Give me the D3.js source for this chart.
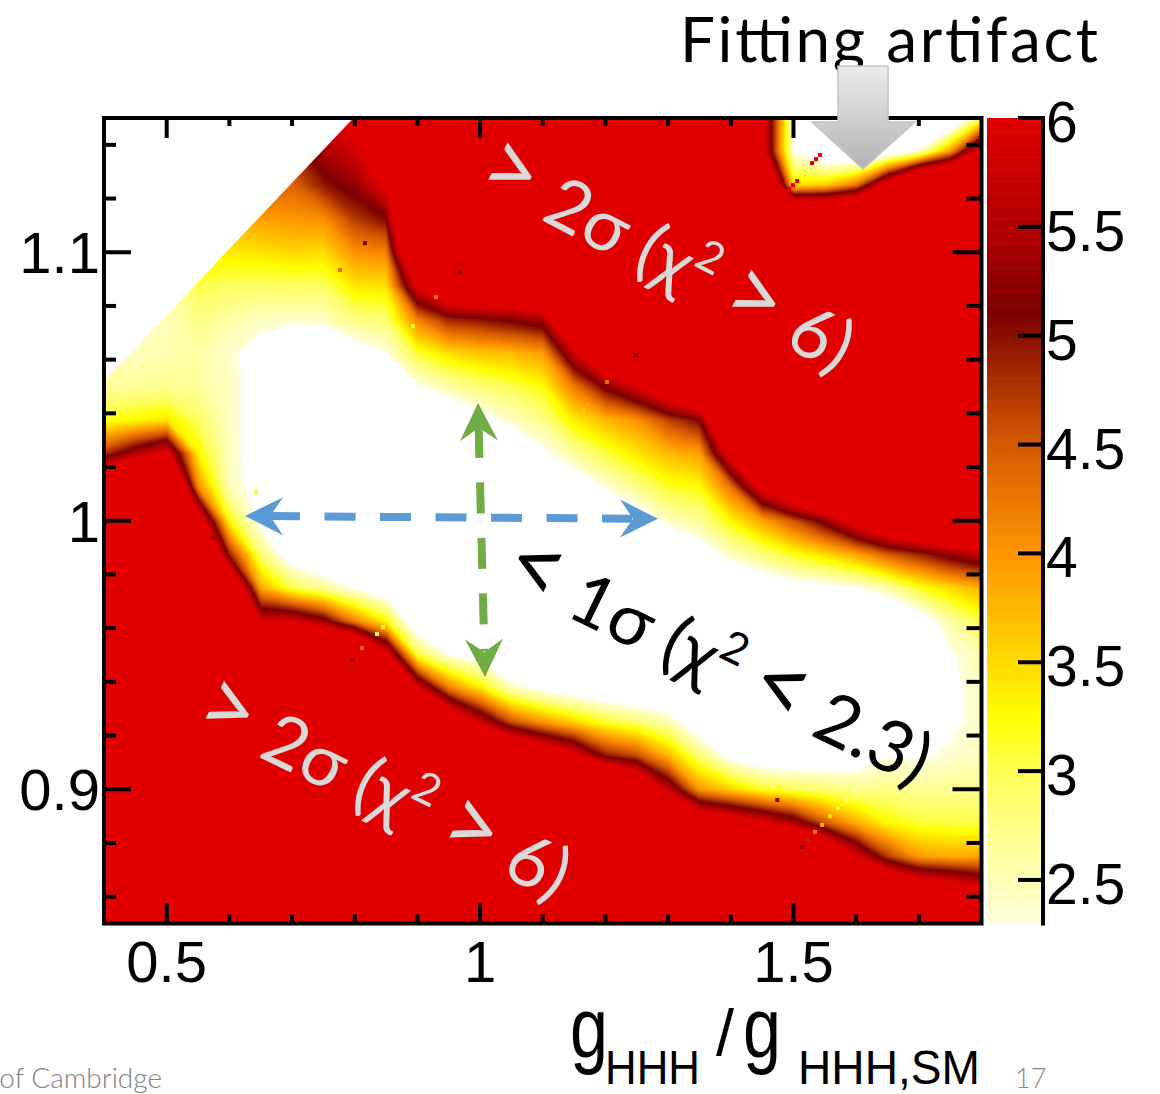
<!DOCTYPE html>
<html><head><meta charset="utf-8">
<script src="https://cdn.jsdelivr.net/npm/d3@7"></script>
<style>body{margin:0;background:#fff;} svg{display:block;}</style>
</head><body>
<svg id="chart" width="1160" height="1094"></svg>
<script>
// ---------------- data ----------------
// grid of scan nodes
const xValues = [0.40,0.45,0.50,0.55,0.60,0.65,0.70,0.75,0.80,0.85,0.90,0.95,1.00,1.05,1.10,1.15,1.20,1.25,1.30,1.35,1.40,1.45,1.50,1.55,1.60,1.65,1.70,1.75,1.80];
const yValues = [1.15,1.1375,1.125,1.1125,1.10,1.0875,1.075,1.0625,1.05,1.0375,1.025,1.0125,1.00,0.9875,0.975,0.9625,0.95,0.9375,0.925,0.9125,0.90,0.8875,0.875,0.8625,0.85];
// chi2 at each node: one array per x value, entries follow yValues (top to bottom)
const chi2Columns = [
 [2.45,2.45,2.45,2.45,2.45,2.45,2.45,2.45,2.65,3.16,4.8,7.9,9,9,9,9,9,9,9,9,9,9,9,9,9],
 [2.45,2.45,2.45,2.45,2.45,2.45,2.45,2.47,2.65,3.3,5.5,9,9,9,9,9,9,9,9,9,9,9,9,9,9],
 [2.5,2.5,2.5,2.5,2.5,2.6,2.5,2.55,2.7,3.43,6.2,9,9,9,9,9,9,9,9,9,9,9,9,9,9],
 [3.6,3.6,3.6,3.6,3.4,3.05,2.75,2.6,2.65,2.95,3.35,4.1,6.7,9,9,9,9,9,9,9,9,9,9,9,9],
 [4.0,4.0,4.0,3.8,3.4,2.95,2.6,2.4,2.45,2.45,2.45,2.5,3.25,4.9,7.8,9,9,9,9,9,9,9,9,9,9],
 [4.8,4.6,4.5,3.95,3.45,2.95,2.45,2.1,2.05,2.05,2.05,2.1,2.15,2.85,3.85,5.9,9,9,9,9,9,9,9,9,9],
 [5.2,4.8,4.4,4.0,3.55,2.95,2.42,1.5,0.8,0.5,0.5,0.5,0.9,1.9,3.02,6.0,9,9,9,9,9,9,9,9,9],
 [6.0,5.45,4.95,4.05,3.5,2.95,2.45,1.6,0.6,0.5,0.5,0.5,0.5,1.55,2.7,5.35,9,9,9,9,9,9,9,9,9],
 [6.3,5.83,5.3,4.73,4.05,3.42,2.8,2.0,1.0,0.5,0.5,0.5,0.5,1.25,2.25,4.19,9,9,9,9,9,9,9,9,9],
 [8.3,7.2,6.15,5.08,4.15,3.46,2.87,2.3,1.3,0.5,0.5,0.5,0.5,0.86,1.85,3.31,6.3,9,9,9,9,9,9,9,9],
 [9,9,9,9,8.3,6.1,4.18,3.12,2.25,1.25,0.5,0.5,0.5,0.5,0.74,1.75,3.11,6.1,9,9,9,9,9,9,9],
 [9,9,9,9,9,7.3,4.87,3.5,2.59,1.64,0.5,0.5,0.5,0.5,0.5,1.3,2.3,4.25,7.3,9,9,9,9,9,9],
 [9,9,9,9,9,7.5,5.02,3.65,2.85,2.08,1.07,0.5,0.5,0.5,0.5,1.0,2.04,3.44,5.8,9,9,9,9,9,9],
 [9,9,9,9,9,7.5,5.2,3.75,3.0,2.43,1.52,0.5,0.5,0.5,0.5,0.5,1.4,2.53,4.58,7.9,9,9,9,9,9],
 [9,9,9,9,9,7.75,5.45,3.94,3.26,2.75,2.18,1.2,0.5,0.5,0.5,0.5,1.17,2.17,4.0,7.0,9,9,9,9,9],
 [9,9,9,9,9,9,8.1,5.78,4.23,3.39,2.65,1.78,0.8,0.5,0.5,0.5,0.9,1.9,3.57,6.2,9,9,9,9,9],
 [9,9,9,9,9,9,9,7.7,5.2,3.75,3.06,2.35,1.37,0.5,0.5,0.5,0.72,1.72,3.16,4.99,9,9,9,9,9],
 [9,9,9,9,9,9,9,8.5,5.94,4.03,3.41,2.74,1.91,0.9,0.5,0.5,0.6,1.6,2.89,4.59,7.65,9,9,9,9],
 [9,9,9,9,9,9,9,9,6.9,4.67,3.73,3.15,2.45,1.5,0.5,0.5,0.54,1.54,2.57,3.76,5.68,9,9,9,9],
 [9,9,9,9,9,9,9,9,8.1,5.1,3.92,3.25,2.67,1.95,0.95,0.5,0.5,0.85,1.86,2.85,4.0,7.0,9,9,9],
 [9,9,9,9,9,9,9,9,9,9,6.3,4.29,3.31,2.48,1.52,0.5,0.5,0.5,1.11,2.12,3.57,6.6,9,9,9],
 [6.3,6.3,9,9,9,9,9,9,9,9,9,6.23,3.9,2.83,1.79,0.8,0.5,0.5,0.78,1.79,3.17,6.1,9,9,9],
 [2.3,2.3,3.5,9,9,9,9,9,9,9,9,7.46,4.55,3.21,2.0,1.0,0.5,0.5,0.81,1.82,2.98,5.5,9,9,9],
 [1.0,1.6,3.6,9,9,9,9,9,9,9,9,8.56,5.28,3.51,2.12,1.1,0.5,0.5,0.84,1.85,2.84,4.52,7.86,9,9],
 [1.0,1.3,4.3,9,9,9,9,9,9,9,9,9,6.4,3.9,2.27,1.26,0.5,0.5,0.93,1.94,2.76,3.82,6.0,9,9],
 [1.1,1.8,6.5,9,9,9,9,9,9,9,9,9,7.26,4.48,2.58,1.44,0.5,0.5,1.26,2.27,2.76,3.3,4.71,7.8,9],
 [1.2,2.4,9,9,9,9,9,9,9,9,9,9,7.8,4.87,3.15,1.89,0.9,0.5,1.23,2.24,2.69,3.11,3.96,7.0,9],
 [1.3,4.0,9,9,9,9,9,9,9,9,9,9,8.3,5.32,3.53,2.59,2.25,2.2,2.2,2.38,2.72,3.06,3.83,6.7,9],
 [3.0,6.5,6.6,7.0,9,9,9,9,9,9,9,9,8.2,5.66,3.8,3.05,2.57,2.45,2.45,2.48,2.68,3.06,3.89,6.1,9]
];
// region outside the scan (empty bins)
const noDataRegion = [[0.4,1.15],[0.4,1.052],[0.798,1.15]];
// isolated interpolation glitches [x, y, chi2]
const glitchPoints = [
 [0.8164,1.1034,5.2],[0.7765,1.0934,4.3],[0.968,1.0926,5.0],[0.9297,1.0833,4.2],[0.893,1.0725,3.2],
 [1.2488,1.0617,5.1],[1.2025,1.0517,4.3],[1.1642,1.0412,3.6],[1.1722,1.0431,3.9],
 [0.6425,1.0107,3.2],[0.5739,0.9936,5.2],[0.7957,0.9481,5.3],[0.8451,0.9604,3.2],[0.8356,0.9578,3.0],[0.8116,0.9526,4.3],
 [1.4742,0.896,5.2],[1.4774,0.9005,3.2],
 [1.5136,0.8785,5.2],[1.5232,0.8811,4.8],[1.5344,0.8841,4.2],[1.5456,0.8867,3.8],[1.5584,0.89,3.4],
 [1.5711,0.893,3.1],[1.5838,0.896,2.8],[1.5982,0.8993,2.5],[1.611,0.9027,2.35],
 [1.5296,1.1332,6],[1.536,1.1347,6],[1.5424,1.1362,6],[1.4929,1.1235,6],[1.4993,1.125,6],[1.5057,1.1265,6]
];
// axes
const xDomain = [0.4, 1.8];
const yDomain = [0.85, 1.15];
const xMajorTicks = [0.5, 1, 1.5];
const xTickLabels = ["0.5", "1", "1.5"];
const xMinorTicks = [0.6,0.7,0.8,0.9,1.1,1.2,1.3,1.4,1.6,1.7];
const yMajorTicks = [0.9, 1.0, 1.1];
const yTickLabels = ["0.9", "1", "1.1"];
const yMinorTicks = [0.86,0.88,0.92,0.94,0.96,0.98,1.02,1.04,1.06,1.08,1.12,1.14];
const zDomain = [2.3, 6.0];
const zTicks = [2.5,3,3.5,4,4.5,5,5.5,6];
const zTickLabels = ["2.5","3","3.5","4","4.5","5","5.5","6"];
const colorStops = [2.3, 2.6, 3.0, 3.25, 3.6, 4.0, 4.5, 5.1, 5.5, 6.0];
const colorRange = ["#ffffdc","#ffffa4","#ffff55","#ffff00","#ffcc00","#ff9500","#d45a00","#7c0000","#b20000","#e00000"];
// annotations (data coordinates)
const blueArrow = {from:[0.625,1.0018], to:[1.2839,1.0007]};
const greenArrow = {from:[0.9967,1.0439], to:[1.0079,0.9418]};

// ---------------- drawing ----------------
const svg = d3.select('#chart');
svg.append('rect').attr('width',1160).attr('height',1094).attr('fill','#fff');
const P = {left:104, right:981.5, top:118, bottom:923.5};
const x = d3.scaleLinear().domain(xDomain).range([P.left, P.right]);
const y = d3.scaleLinear().domain(yDomain).range([P.bottom, P.top]);
const color = d3.scaleLinear().domain(colorStops).range(colorRange).clamp(true);

const defs = svg.append('defs');
defs.append('clipPath').attr('id','plotclip').append('rect')
  .attr('x',P.left).attr('y',P.top).attr('width',P.right-P.left).attr('height',P.bottom-P.top);
const grad = defs.append('linearGradient').attr('id','arrowgrad').attr('x1',0).attr('y1',0).attr('x2',0).attr('y2',1);
grad.append('stop').attr('offset','0%').attr('stop-color','#ececec');
grad.append('stop').attr('offset','100%').attr('stop-color','#b3b3b3');

// heat map via filled contours
const n = xValues.length, m = yValues.length;
const grid = new Array(n*m);
for (let j=0;j<m;j++) for (let i=0;i<n;i++) grid[j*n+i] = chi2Columns[i][j];
const thresholds = d3.range(zDomain[0], zDomain[1]+1e-9, 0.02);
const contours = d3.contours().size([n,m]).thresholds(thresholds)(grid);
const dxg = xValues[1]-xValues[0], dyg = yValues[0]-yValues[1];
const proj = d3.geoTransform({point(gx, gy){
  this.stream.point(x(xValues[0] + (gx-0.5)*dxg), y(yValues[0] - (gy-0.5)*dyg));
}});
const path = d3.geoPath(proj);
const heat = svg.append('g').attr('clip-path','url(#plotclip)');
heat.selectAll('path').data(contours).join('path')
  .attr('d', path).attr('fill', d => color(d.value)).attr('stroke','none');
heat.selectAll('rect.gl').data(glitchPoints).join('rect').attr('class','gl')
  .attr('x', d => x(d[0])-2).attr('y', d => y(d[1])-2).attr('width',4).attr('height',4)
  .attr('fill', d => color(d[2]));
heat.append('path')
  .attr('d', d3.line().x(d=>x(d[0])).y(d=>y(d[1]))(noDataRegion.concat([[xDomain[0]-0.05,yDomain[1]+0.05]])) + 'Z')
  .attr('fill','#fff');

// frame and ticks
const axisG = svg.append('g').attr('stroke','#000').attr('stroke-width',4);
axisG.append('rect').attr('x',P.left).attr('y',P.top).attr('width',P.right-P.left).attr('height',P.bottom-P.top).attr('fill','none');
function ticks(vals, len){
  vals.forEach(v=>{
    axisG.append('line').attr('x1',x(v)).attr('x2',x(v)).attr('y1',P.bottom).attr('y2',P.bottom-len.b);
    axisG.append('line').attr('x1',x(v)).attr('x2',x(v)).attr('y1',P.top).attr('y2',P.top+len.t);
  });
}
ticks(xMinorTicks,{b:9,t:8});
ticks(xMajorTicks,{b:20,t:20});
function yticks(vals, l, r){
  vals.forEach(v=>{
    axisG.append('line').attr('y1',y(v)).attr('y2',y(v)).attr('x1',P.left).attr('x2',P.left+l);
    axisG.append('line').attr('y1',y(v)).attr('y2',y(v)).attr('x1',P.right).attr('x2',P.right-r);
  });
}
yticks(yMinorTicks,12,15);
yticks(yMajorTicks,27,29);

const labelFont = "'Liberation Sans', Arial, Helvetica, sans-serif";
svg.append('g').selectAll('text').data(xMajorTicks).join('text')
  .attr('x', d=>x(d)).attr('y', 982).attr('text-anchor','middle')
  .attr('font-family',labelFont).attr('font-size',58).text((d,i)=>xTickLabels[i]);
svg.append('g').selectAll('text').data(yMajorTicks).join('text')
  .attr('x', 100).attr('y', d=>y(d)+21).attr('text-anchor','end')
  .attr('font-family',labelFont).attr('font-size',58).text((d,i)=>yTickLabels[i]);

// colour bar
const CB = {left:987, right:1043};
const z = d3.scaleLinear().domain(zDomain).range([P.bottom, P.top]);
const cbSteps = d3.range(zDomain[0], zDomain[1], 0.005);
svg.append('g').selectAll('rect').data(cbSteps).join('rect')
  .attr('x',CB.left).attr('width',CB.right-CB.left)
  .attr('y', d=>z(Math.min(d+0.005,zDomain[1]))).attr('height', d=>z(d)-z(Math.min(d+0.005,zDomain[1]))+0.7)
  .attr('fill', d=>color(d+0.0025));
const cbAxis = svg.append('g').attr('stroke','#000').attr('stroke-width',4);
cbAxis.append('line').attr('x1',CB.right).attr('x2',CB.right).attr('y1',P.top-2).attr('y2',P.bottom+2);
zTicks.forEach(v=>cbAxis.append('line').attr('x1',CB.right).attr('x2',CB.right-25).attr('y1',z(v)).attr('y2',z(v)));
svg.append('g').selectAll('text').data(zTicks).join('text')
  .attr('x',CB.right+3).attr('y',d=>z(d)+24).attr('font-family',labelFont).attr('font-size',57)
  .text((d,i)=>zTickLabels[i]);

// axis title
const tf = labelFont;
svg.append('text').attr('x',570).attr('y',1057).attr('font-family',tf).attr('font-size',86)
  .attr('textLength',38).attr('lengthAdjust','spacingAndGlyphs').text('g');
svg.append('text').attr('x',605).attr('y',1084).attr('font-family',tf).attr('font-size',48)
  .attr('textLength',95).attr('lengthAdjust','spacingAndGlyphs').text('HHH');
svg.append('text').attr('x',716).attr('y',1055).attr('font-family',tf).attr('font-size',64)
  .attr('textLength',18).attr('lengthAdjust','spacingAndGlyphs').text('/');
svg.append('text').attr('x',743).attr('y',1057).attr('font-family',tf).attr('font-size',86)
  .attr('textLength',38).attr('lengthAdjust','spacingAndGlyphs').text('g');
svg.append('text').attr('x',798).attr('y',1084).attr('font-family',tf).attr('font-size',48)
  .attr('textLength',182).attr('lengthAdjust','spacingAndGlyphs').text('HHH,SM');

// annotation arrows
function dashedArrow(a, col){
  const x0=x(a.from[0]), y0=y(a.from[1]), x1=x(a.to[0]), y1=y(a.to[1]);
  const L=Math.hypot(x1-x0,y1-y0), ux=(x1-x0)/L, uy=(y1-y0)/L, px=-uy, py=ux;
  const g=svg.append('g');
  g.append('line').attr('x1',x0+ux*24).attr('y1',y0+uy*24).attr('x2',x1-ux*26).attr('y2',y1-uy*26)
    .attr('stroke',col).attr('stroke-width',8).attr('stroke-dasharray','31 24.5');
  function head(tx,ty,dx,dy){
    const pts=[[tx,ty],[tx-dx*38+px*19,ty-dy*38+py*19],[tx-dx*25,ty-dy*25],[tx-dx*38-px*19,ty-dy*38-py*19]];
    g.append('path').attr('d','M'+pts.map(p=>p.join(',')).join('L')+'Z').attr('fill',col);
  }
  head(x1,y1,ux,uy); head(x0,y0,-ux,-uy);
}
dashedArrow(blueArrow,'#5b9bd5');
dashedArrow(greenArrow,'#70ad47');

// rotated labels
const annFont = "Lato, 'Open Sans', 'DejaVu Sans', sans-serif";
function rotText(parts, cx, cy, ang, col, len){
  const t = svg.append('text').attr('transform',`translate(${cx},${cy}) rotate(${ang})`)
    .attr('text-anchor','middle').attr('dy','0.35em').attr('font-family',annFont).attr('font-size',72)
    .attr('fill',col).attr('textLength',len).attr('lengthAdjust','spacing');
  let shift = 0;
  parts.forEach(p=>{
    const s = t.append('tspan').text(p.t);
    if (p.big) s.attr('font-size',96);
    if (p.sup) { s.attr('font-size',44).attr('dy',-30); shift = 30; }
    else if (shift) { s.attr('dy',shift); shift = 0; }
  });
}
rotText([{t:'>',big:true},{t:' 2σ (χ'},{t:'2',sup:true},{t:' '},{t:'>',big:true},{t:' 6)'}], 667, 257, 27.5, '#d9d9d9', 410);
rotText([{t:'>',big:true},{t:' 2σ (χ'},{t:'2',sup:true},{t:' '},{t:'>',big:true},{t:' 6)'}], 384, 790, 26, '#d9d9d9', 405);
rotText([{t:'<',big:true},{t:' 1σ (χ'},{t:'2',sup:true},{t:' '},{t:'<',big:true},{t:' 2.3)'}], 718, 662, 26, '#000', 465);

// "Fitting artifact" callout
svg.append('text').attr('x',680).attr('y',62).attr('font-family',annFont).attr('font-size',62)
  .attr('textLength',418).attr('lengthAdjust','spacing').text('Fitting artifact');
svg.append('path').attr('d','M838,66 L888,66 L888,122 L915,122 L863,169 L812,122 L838,122 Z')
  .attr('fill','url(#arrowgrad)').attr('stroke','#c4c4c4').attr('stroke-width',1.5);

// footer
svg.append('text').attr('x',162).attr('y',1088).attr('text-anchor','end').attr('font-family',annFont)
  .attr('font-size',28).attr('font-weight',300).attr('fill','#7f7f7f').text('of Cambridge');
svg.append('text').attr('x',1015).attr('y',1088).attr('font-family',annFont)
  .attr('font-size',27).attr('font-weight',300).attr('fill','#8a8a8a').text('17');
</script>
</body></html>
